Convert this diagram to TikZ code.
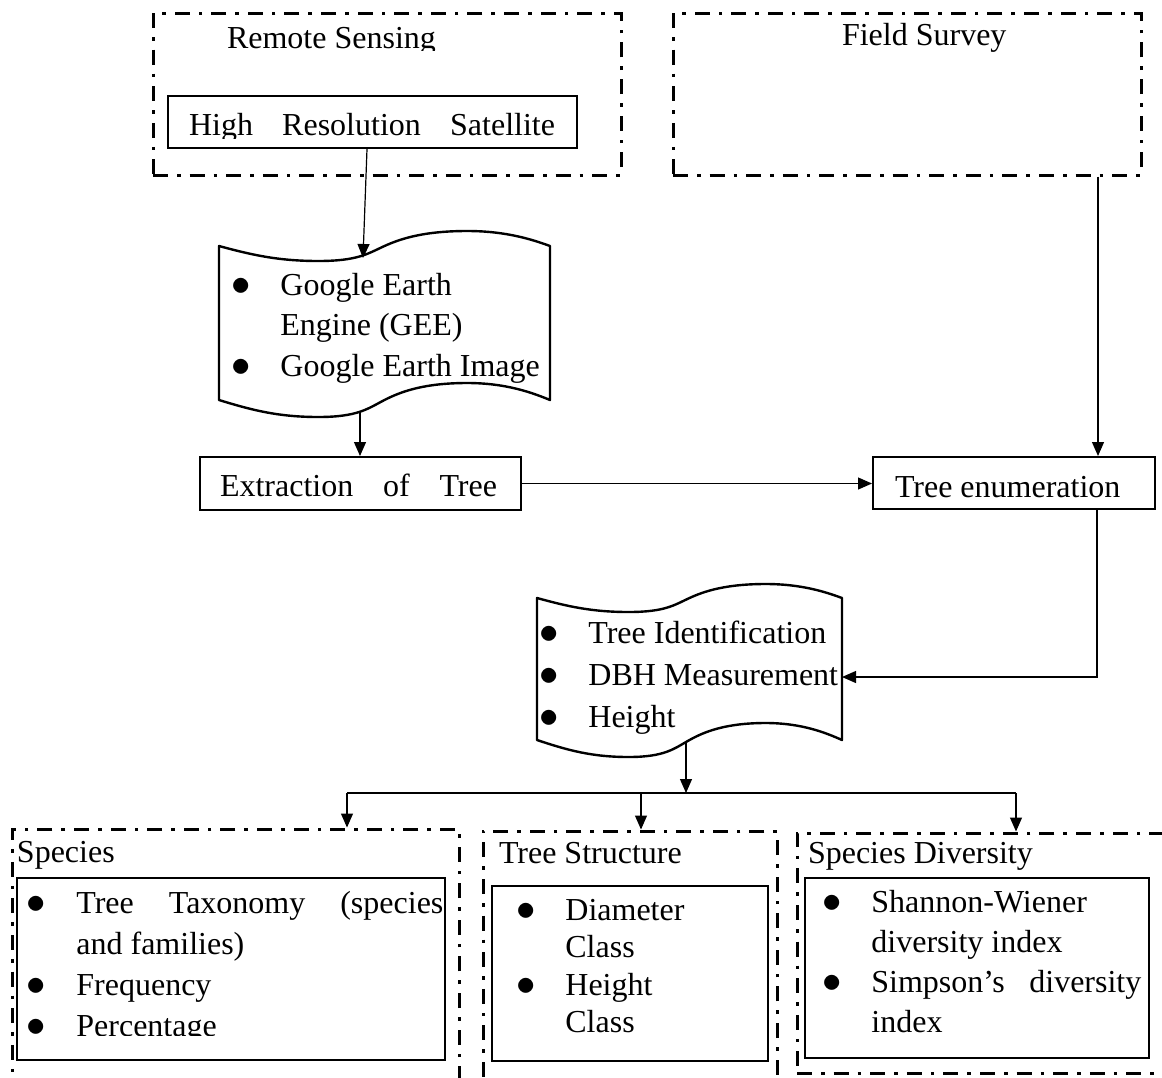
\documentclass[tikz,border=0pt]{standalone}
\usepackage{fontspec}
\setmainfont{Liberation Serif}
\usetikzlibrary{arrows.meta,fit}
\newcommand\lst[2]{\fontsize{16pt}{#1}\selectfont\begin{tabular}[t]{@{}l@{}}#2\end{tabular}}
\newcommand\bul{\makebox[23.5pt][l]{\hspace{-1.2pt}\scalebox{1.12}{$\bullet$}}}
\newcommand\ind{\hspace*{23.5pt}}
\newcommand\tapeshape[6]{%
  \pgfmathsetmacro\tW{#2-#1}%
  \draw[tape] (#1,#3)
    .. controls ({#1+0.1*\tW},{#3+0.6*#4}) and ({#1+0.18*\tW},{#3+#4}) .. ({#1+0.3*\tW},{#3+#4})
    .. controls ({#1+0.42*\tW},{#3+#4}) and ({#1+0.45*\tW},{#3+0.5*#4}) .. ({#1+0.5*\tW},#3)
    .. controls ({#1+0.55*\tW},{#3-0.5*#4}) and ({#1+0.62*\tW},{#3-#4}) .. ({#1+0.75*\tW},{#3-#4})
    .. controls ({#1+0.87*\tW},{#3-#4}) and ({#1+0.95*\tW},{#3-0.4*#4}) .. (#2,#3)
    -- (#2,#5)
    .. controls ({#1+0.95*\tW},{#5-0.4*#6}) and ({#1+0.87*\tW},{#5-#6}) .. ({#1+0.75*\tW},{#5-#6})
    .. controls ({#1+0.62*\tW},{#5-#6}) and ({#1+0.55*\tW},{#5-0.5*#6}) .. ({#1+0.5*\tW},#5)
    .. controls ({#1+0.45*\tW},{#5+0.5*#6}) and ({#1+0.42*\tW},{#5+#6}) .. ({#1+0.3*\tW},{#5+#6})
    .. controls ({#1+0.18*\tW},{#5+#6}) and ({#1+0.1*\tW},{#5+0.6*#6}) .. (#1,#5)
    -- cycle;}
\begin{document}
\begin{tikzpicture}[x=0.5pt,y=-0.5pt,
  font=\fontsize{16pt}{20.5pt}\selectfont,
  dashbox/.style={draw,line width=1.5pt,dash pattern=on 7.5pt off 4.5pt on 1.8pt off 4.5pt,inner sep=0pt},
  solidbox/.style={draw,line width=1pt,inner sep=0pt},
  innerbox/.style={draw,line width=1.3pt,inner sep=0pt},
  tape/.style={draw,line width=1.2pt,line join=round},
  txt/.style={inner sep=0pt,outer sep=0pt,anchor=base west},
  conn/.style={line width=0.6pt,-{Triangle[length=7pt,width=6pt]}},
  plain/.style={line width=0.6pt}]
\useasboundingbox (0,0) rectangle (1162,1077);
\clip (0,0) rectangle (1162,1077);

% top boxes
\node[dashbox,fit={(153,13) (621,175)}] (rs) {};
\begin{scope}
  \clip (153,13) rectangle (621,50);
  \node[txt] (rst) at (227,48) {Remote Sensing};
\end{scope}
\node[solidbox,fit={(168,96) (577,148)}] (hr) {};
\begin{scope}
  \clip (168,96) rectangle (577,138);
  \node[txt] (hrt) at (189,135) {\makebox[183pt][s]{High Resolution Satellite}};
\end{scope}
\node[dashbox,fit={(673,13) (1141,175)}] (fs) {};
\node[txt] (fst) at (842,45) {Field Survey};

% document shape 1
\tapeshape{219}{550}{246}{15}{400}{17}
\node[txt] (d1t) at (233.4,295) {\lst{20.25pt}{\bul Google Earth\\ \ind Engine (GEE)\\ \bul Google Earth Image}};
\coordinate (d1in) at (363,258);
\coordinate (d1out) at (360,411);

% middle boxes
\node[solidbox,fit={(200,457) (521,510)}] (ex) {};
\node[txt] (ext) at (220,496) {\makebox[138.5pt][s]{Extraction of Tree}};
\node[solidbox,fit={(873,457) (1155,509)}] (te) {};
\node[txt] (tet) at (895,497) {Tree enumeration};

% document shape 2
\tapeshape{537}{842}{598}{14}{740}{17}
\node[txt] (d2t) at (541.4,643) {\lst{21pt}{\bul Tree Identification\\ \bul DBH Measurement\\ \bul Height}};
\coordinate (d2in) at (842,677);
\coordinate (d2out) at (686,742);
\coordinate (hub) at (686,793);
\coordinate (bl) at (347,793);
\coordinate (bm) at (641,793);
\coordinate (br) at (1016,793);

% bottom boxes
\node[dashbox,fit={(12,829) (459,1110)}] (sp) {};
\node[innerbox,fit={(17,878) (445,1060)}] (spin) {};
\node[txt] (spt) at (17,862) {Species};
\begin{scope}
  \clip (17,878) rectangle (445,1035);
  \node[txt] (spl) at (29.4,913) {\lst{20.6pt}{\bul\makebox[183.5pt][s]{Tree Taxonomy (species}\\ \ind and families)\\ \bul Frequency\\ \bul Percentage}};
\end{scope}

\node[dashbox,fit={(483,831) (777,1110)}] (ts) {};
\node[innerbox,fit={(492,886) (768,1061)}] (tsin) {};
\node[txt] (tst) at (499,863) {Tree Structure};
\node[txt] (tsl) at (518.4,920) {\lst{18.8pt}{\bul Diameter\\ \ind Class\\ \bul Height\\ \ind Class}};

\node[dashbox,fit={(797,833) (1190,1073)}] (sd) {};
\node[innerbox,fit={(805,878) (1149,1058)}] (sdin) {};
\node[txt] (sdt) at (808,863) {Species Diversity};
\node[txt] (sdl) at (824.4,912) {\lst{20pt}{\bul Shannon-Wiener\\ \ind diversity index\\ \bul\makebox[135pt][s]{Simpson’s diversity}\\ \ind index}};

% connectors
\draw[conn] (hr.south -| 367,0) -- (d1in);
\draw[conn] (fs.south -| 1098,0) -- (te.north -| 1098,0);
\draw[conn] (d1out) -- (ex.north -| d1out);
\draw[conn] (ex.east) -- (ex.east -| te.west);
\draw[conn] (te.south -| 1097,0) |- (d2in);
\draw[conn] (d2out) -- (hub);
\draw[plain] (bl) -- (br);
\draw[conn] (bl) -- (sp.north -| bl);
\draw[conn] (bm) -- (ts.north -| bm);
\draw[conn] (br) -- (sd.north -| br);
\end{tikzpicture}
\end{document}
